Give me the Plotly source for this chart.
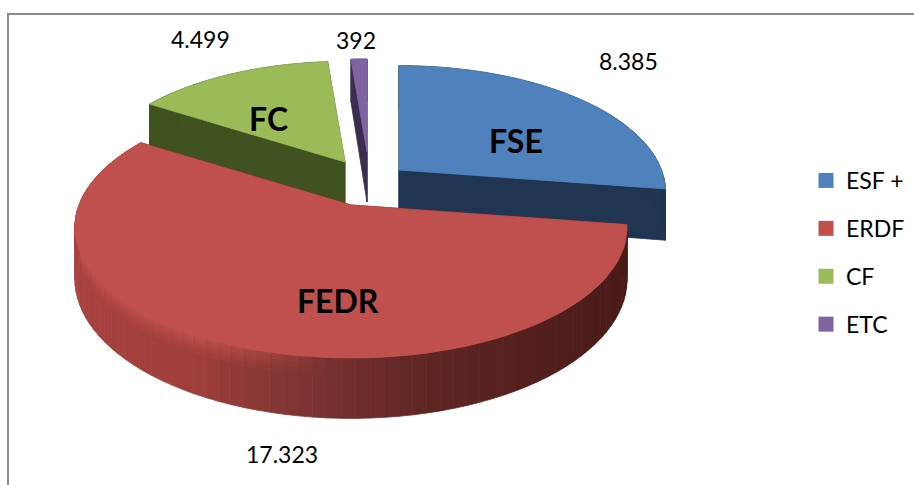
import math
import plotly.graph_objects as go

categories = ["ESF +", "ERDF", "CF", "ETC"]
values = [8385, 17323, 4499, 392]
value_labels = ["8.385", "17.323", "4.499", "392"]
slice_labels = ["FSE", "FEDR", "FC", ""]

face_colors = ["#4f81bd", "#c0504d", "#9bbb59", "#8064a2"]
wall_colors = ["#1f3552", None, "#3f5220", "#3b2d50"]
# per-slice exploded apex position and radial scale (pixels in the 914x485 frame)
apex = [(399, 170), (351, 205), (345, 162), (367, 152)]
scale = [0.965, 1.0, 0.93, 0.86]
depth = [50, 50, 50, 50]
draw_order = [2, 3, 0, 1]
RX, F, K = 272, 126.7, 0.172
label_pos = [(628, 61), (282, 454), (200, 39), (356, 40)]
name_pos = [(516, 140), (338, 300), (268, 118), None]
FACE_RGB = (192, 80, 77)


def project(i, theta, radius=1.0, dz=0.0):
    u, v = radius * math.sin(theta), -radius * math.cos(theta)
    w = 1 - K * v
    ax, ay = apex[i]
    s = scale[i]
    return ax + s * RX * u / w, ay + s * F * v / w + dz / w


def mix(a, b, t):
    return tuple(round(a[j] + (b[j] - a[j]) * t) for j in range(3))


def red_wall(x):
    stops = [(70, (168, 66, 63)), (200, (158, 62, 58)), (300, (125, 52, 50)),
             (420, (95, 38, 36)), (640, (72, 26, 24))]
    for (x0, c0), (x1, c1) in zip(stops, stops[1:]):
        if x <= x1:
            return mix(c0, c1, max(0, (x - x0) / (x1 - x0)))
    return (72, 26, 24)


fig = go.Figure()


def poly(pts, color):
    fig.add_trace(go.Scatter(
        x=[p[0] for p in pts] + [pts[0][0]], y=[p[1] for p in pts] + [pts[0][1]],
        mode="lines", fill="toself", fillcolor=color,
        line=dict(color=color, width=0.8), showlegend=False, hoverinfo="skip"))


total = sum(values)
bounds = [0.0]
for val in values:
    bounds.append(bounds[-1] + 2 * math.pi * val / total)

BLEND_ROWS = [0.0, 3.0, 6.0, 9.0, 12.0, 15.0]

for i in draw_order:
    a0, a1 = bounds[i], bounds[i + 1]
    d = depth[i]
    n = max(2, int(math.degrees(a1 - a0) / 2.5))
    th = [a0 + (a1 - a0) * j / n for j in range(n + 1)]
    for edge in (a0, a1):
        cut = wall_colors[i] or "rgb(72,26,24)"
        poly([project(i, edge, 0), project(i, edge), project(i, edge, dz=d), project(i, edge, 0, dz=d)], cut)
    for t0, t1 in zip(th, th[1:]):
        p0, p1 = project(i, t0), project(i, t1)
        if wall_colors[i]:
            poly([p0, p1, project(i, t1, dz=d), project(i, t0, dz=d)], wall_colors[i])
            continue
        xm = (p0[0] + p1[0]) / 2
        rgb = red_wall(xm)
        poly([p0, p1, project(i, t1, dz=d), project(i, t0, dz=d)], "rgb(%d,%d,%d)" % rgb)
        # soft shoulder between face and wall on the lit, left part of the rim
        if xm < 330 and -math.cos((t0 + t1) / 2) > -0.6:
            strength = min(1.0, (330 - xm) / 130)
            for r0, r1 in zip(BLEND_ROWS, BLEND_ROWS[1:]):
                t = 1 - (r0 / BLEND_ROWS[-1])
                col = mix(rgb, FACE_RGB, t * strength * 0.9)
                poly([project(i, t0, dz=r0), project(i, t1, dz=r0),
                      project(i, t1, dz=r1), project(i, t0, dz=r1)], "rgb(%d,%d,%d)" % col)
    poly([project(i, 0, 0)] + [project(i, t) for t in th], face_colors[i])

for name, col in zip(categories, face_colors):
    fig.add_trace(go.Scatter(x=[None], y=[None], mode="markers", name=name, legendgroup=name,
                             marker=dict(symbol="square", size=15, color=col)))

ann = []
for txt, (x, y) in zip(value_labels, label_pos):
    ann.append(dict(x=x, y=y, text=txt, showarrow=False, font=dict(size=23, color="#000000")))
for txt, pos in zip(slice_labels, name_pos):
    if pos:
        ann.append(dict(x=pos[0], y=pos[1], text="<b>%s</b>" % txt, showarrow=False,
                        font=dict(size=32, color="#000000")))

fig.update_layout(
    width=914, height=485, autosize=False,
    margin=dict(l=0, r=0, t=0, b=0),
    paper_bgcolor="#ffffff", plot_bgcolor="#ffffff",
    font=dict(family="Lato, Carlito, sans-serif", color="#000000"),
    xaxis=dict(range=[0, 914], visible=False, fixedrange=True),
    yaxis=dict(range=[485, 0], visible=False, fixedrange=True),
    annotations=ann,
    shapes=[
        dict(type="line", x0=8, x1=914, y0=14, y1=14, line=dict(color="#8a8a8a", width=2)),
        dict(type="line", x0=8, x1=8, y0=13, y1=485, line=dict(color="#8a8a8a", width=2)),
    ],
    legend=dict(x=806 / 914, y=1 - 159 / 485, xanchor="left", yanchor="top",
                bgcolor="rgba(0,0,0,0)", font=dict(size=23), tracegroupgap=15,
                itemsizing="trace", itemclick=False, itemdoubleclick=False),
)
fig.write_html("out.html", config={"displayModeBar": False},
               post_script="document.body.style.margin='0';document.documentElement.style.overflow='hidden';")
